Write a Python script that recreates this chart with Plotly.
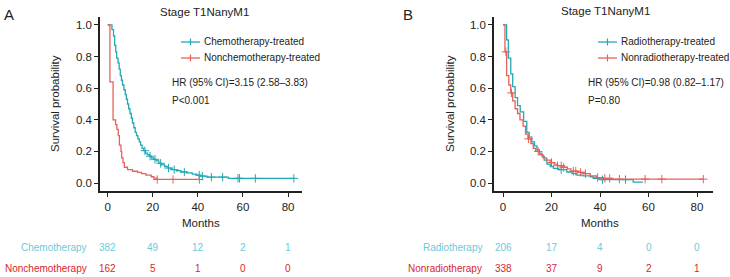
import numpy as np
import plotly.graph_objects as go

# ---------------- data ----------------
title_text = "Stage T1NanyM1"
risk_times = [0, 20, 40, 60, 80]

# Panel A
chemo_t = [0, 1.9, 2.6, 3.1, 3.6, 4.0, 4.6, 5.1, 5.6, 6.1, 6.6, 7.2, 7.8, 8.3, 8.8, 9.3, 9.9, 10.5,
           11.0, 11.6, 12.2, 12.8, 13.4, 14.0, 14.6, 15.3, 16.0, 16.8, 17.6, 18.5, 19.4, 20.4, 21.5,
           22.7, 24.0, 25.3, 26.8, 28.5, 30.5, 32.5, 35.0, 37.5, 39.5, 41.0, 44.0, 53.5, 82.6]
chemo_s = [1.0, 0.97, 0.93, 0.87, 0.83, 0.79, 0.76, 0.72, 0.68, 0.65, 0.62, 0.59, 0.56, 0.53, 0.50,
           0.47, 0.44, 0.41, 0.38, 0.35, 0.32, 0.30, 0.28, 0.26, 0.24, 0.22, 0.205, 0.19, 0.18, 0.17,
           0.16, 0.15, 0.14, 0.125, 0.115, 0.105, 0.095, 0.085, 0.078, 0.07, 0.064, 0.057, 0.05,
           0.044, 0.038, 0.03, 0.03]
chemo_cens = [16.5, 18.8, 21.0, 23.5, 27.0, 29.5, 34.0, 40.6, 42.0, 46.0, 51.0, 57.8, 58.5, 65.5, 82.6]

nonchemo_t = [0, 1.0, 2.4, 3.5, 4.1, 4.7, 5.2, 5.9, 6.2, 6.8, 7.4, 8.8, 11.0, 13.3, 15.0, 17.0,
              19.3, 20.5, 21.8, 40.7]
nonchemo_s = [1.0, 0.64, 0.40, 0.37, 0.34, 0.30, 0.24, 0.20, 0.16, 0.13, 0.10, 0.085, 0.075, 0.068,
              0.06, 0.05, 0.04, 0.032, 0.023, 0.023]
nonchemo_cens = [22.0, 29.0, 40.7]

chemo_risk = [382, 49, 12, 2, 1]
nonchemo_risk = [162, 5, 1, 0, 0]

# Panel B
radio_t = [0, 1.5, 2.2, 3.2, 4.0, 5.0, 6.0, 7.1, 8.5, 9.8, 10.8, 11.9, 13.0, 14.0, 15.0, 16.0,
           17.0, 18.1, 19.5, 20.8, 23.0, 26.3, 28.5, 30.5, 33.0, 36.0, 37.2, 40.0, 53.7, 57.7]
radio_s = [1.0, 0.905, 0.79, 0.69, 0.61, 0.54, 0.49, 0.45, 0.39, 0.32, 0.29, 0.26, 0.235, 0.21,
           0.19, 0.17, 0.145, 0.12, 0.105, 0.093, 0.085, 0.07, 0.06, 0.05, 0.045, 0.04, 0.03,
           0.022, 0.006, 0.006]
radio_cens = [24.0, 41.0, 50.5]

nonradio_t = [0, 0.8, 1.5, 2.4, 3.2, 4.0, 5.0, 6.0, 7.0, 8.3, 9.3, 10.3, 11.5, 12.5, 13.5, 15.0,
              16.5, 18.0, 19.5, 21.0, 22.5, 24.5, 26.5, 28.0, 31.0, 33.5, 36.0, 38.5, 41.4, 45.0, 82.6]
nonradio_s = [1.0, 0.83, 0.68, 0.62, 0.57, 0.52, 0.47, 0.44, 0.40, 0.36, 0.31, 0.28, 0.25, 0.22,
              0.20, 0.18, 0.16, 0.145, 0.13, 0.12, 0.11, 0.10, 0.09, 0.075, 0.068, 0.06, 0.045,
              0.035, 0.03, 0.025, 0.025]
nonradio_cens = [1.2, 3.5, 10.5, 14.5, 20.0, 22.5, 24.0, 25.0, 29.0, 30.0, 32.0, 34.0, 39.0,
                 42.0, 44.0, 48.0, 58.6, 65.5, 82.6]

radio_risk = [206, 17, 4, 0, 0]
nonradio_risk = [338, 37, 9, 2, 1]

# ---------------- styles ----------------
W, H = 730, 277
TEAL = "#22a9b3"
RED = "#e8605a"
TEAL_TXT = "#6ccad8"
RED_TXT = "#d8262c"
FONT = "Liberation Sans, Arial, sans-serif"


def px(x):
    return x / W


def py(y):
    return 1 - y / H


def step_val(t, s, x):
    t = np.asarray(t)
    idx = np.searchsorted(t, x, side="right") - 1
    return np.asarray(s)[idx]


fig = go.Figure()


def add_curve(t, s, cens, color, xa, ya):
    fig.add_trace(go.Scatter(x=t, y=s, mode="lines", line=dict(color=color, width=1.3, shape="hv"),
                             xaxis=xa, yaxis=ya, showlegend=False, hoverinfo="skip"))
    fig.add_trace(go.Scatter(x=cens, y=step_val(t, s, cens), mode="markers",
                             marker=dict(symbol="cross-thin", size=6, line=dict(color=color, width=1)),
                             xaxis=xa, yaxis=ya, showlegend=False, hoverinfo="skip"))


add_curve(chemo_t, chemo_s, chemo_cens, TEAL, "x", "y")
add_curve(nonchemo_t, nonchemo_s, nonchemo_cens, RED, "x", "y")
add_curve(radio_t, radio_s, radio_cens, TEAL, "x2", "y2")
add_curve(nonradio_t, nonradio_s, nonradio_cens, RED, "x2", "y2")

tickfont = dict(family=FONT, size=11.5, color="#222")
ydom = [py(191), py(17)]
common_x = dict(showline=True, linecolor="#222", linewidth=1.5, ticks="outside", ticklen=4,
                tickwidth=1.2, tickcolor="#222", showgrid=False, zeroline=False,
                tickvals=risk_times, tickfont=tickfont)
common_y = dict(showline=True, linecolor="#222", linewidth=1.5, ticks="outside", ticklen=4,
                tickwidth=1.2, tickcolor="#222", showgrid=False, zeroline=False,
                tickvals=[0, 0.2, 0.4, 0.6, 0.8, 1.0], tickformat=".1f", tickfont=tickfont,
                range=[-0.05, 1.05], domain=ydom)

fig.update_layout(
    width=W, height=H, margin=dict(l=0, r=0, t=0, b=0),
    paper_bgcolor="white", plot_bgcolor="white",
    xaxis=dict(domain=[px(100), px(302)], range=[-3.4, 86.2], anchor="y", **common_x),
    yaxis=dict(anchor="x", **common_y),
    xaxis2=dict(domain=[px(494), px(713)], range=[-3.71, 86.6], anchor="y2", **common_x),
    yaxis2=dict(anchor="x2", **common_y),
    showlegend=False,
)

ann = []


def text(x, y, s, size=10, color="#222", xanchor="left", angle=0):
    ann.append(dict(x=px(x), y=py(y), xref="paper", yref="paper", text=s, showarrow=False,
                    xanchor=xanchor, yanchor="middle", textangle=angle,
                    font=dict(family=FONT, size=size, color=color)))


shapes = []


def legend_item(x0, x1, y, color, label):
    shapes.append(dict(type="line", xref="paper", yref="paper", x0=px(x0), x1=px(x1), y0=py(y), y1=py(y),
                       line=dict(color=color, width=1.3)))
    xm = (x0 + x1) / 2
    shapes.append(dict(type="line", xref="paper", yref="paper", x0=px(xm), x1=px(xm), y0=py(y - 3.5),
                       y1=py(y + 3.5), line=dict(color=color, width=1.2)))
    text(x1 + 2, y, label, size=10)


# Panel A texts
text(9, 14, "A", size=15, xanchor="center")
text(204, 12, title_text, size=11.5, xanchor="center")
text(55, 104, "Survival probability", size=11.5, xanchor="center", angle=-90)
text(201, 223, "Months", size=11.5, xanchor="center")
legend_item(181, 200, 42, TEAL, "Chemotherapy-treated")
legend_item(181, 200, 58, RED, "Nonchemotherapy-treated")
text(170, 82, "HR (95% CI)=3.15 (2.58\u20133.83)", size=10)
text(170, 100, "P<0.001", size=10)

# Panel B texts
text(408, 14, "B", size=15, xanchor="center")
text(605, 11, title_text, size=11.5, xanchor="center")
text(450, 104, "Survival probability", size=11.5, xanchor="center", angle=-90)
text(600, 223, "Months", size=11.5, xanchor="center")
legend_item(598, 617, 42, TEAL, "Radiotherapy-treated")
legend_item(598, 617, 58, RED, "Nonradiotherapy-treated")
text(586, 82, "HR (95% CI)=0.98 (0.82\u20131.17)", size=10)
text(586, 100, "P=0.80", size=10)

# Numbers at risk
A_x0, A_scale = 107.7, 2.254
B_x0, B_scale = 503.0, 2.425


def risk_row(label, label_right, vals, y, color, x0, scale):
    text(label_right, y, label, size=10, color=color, xanchor="right")
    for t, v in zip(risk_times, vals):
        text(x0 + scale * t, y, str(v), size=10, color=color, xanchor="center")


risk_row("Chemotherapy", 89, chemo_risk, 247, TEAL_TXT, A_x0, A_scale)
risk_row("Nonchemotherapy", 89, nonchemo_risk, 268, RED_TXT, A_x0, A_scale)
risk_row("Radiotherapy", 484, radio_risk, 247, TEAL_TXT, B_x0, B_scale)
risk_row("Nonradiotherapy", 484, nonradio_risk, 268, RED_TXT, B_x0, B_scale)

fig.update_layout(annotations=ann, shapes=shapes)
fig.write_html("out.html", config={"displayModeBar": False},
               post_script="document.body.style.margin='0';document.body.style.overflow='hidden';")
